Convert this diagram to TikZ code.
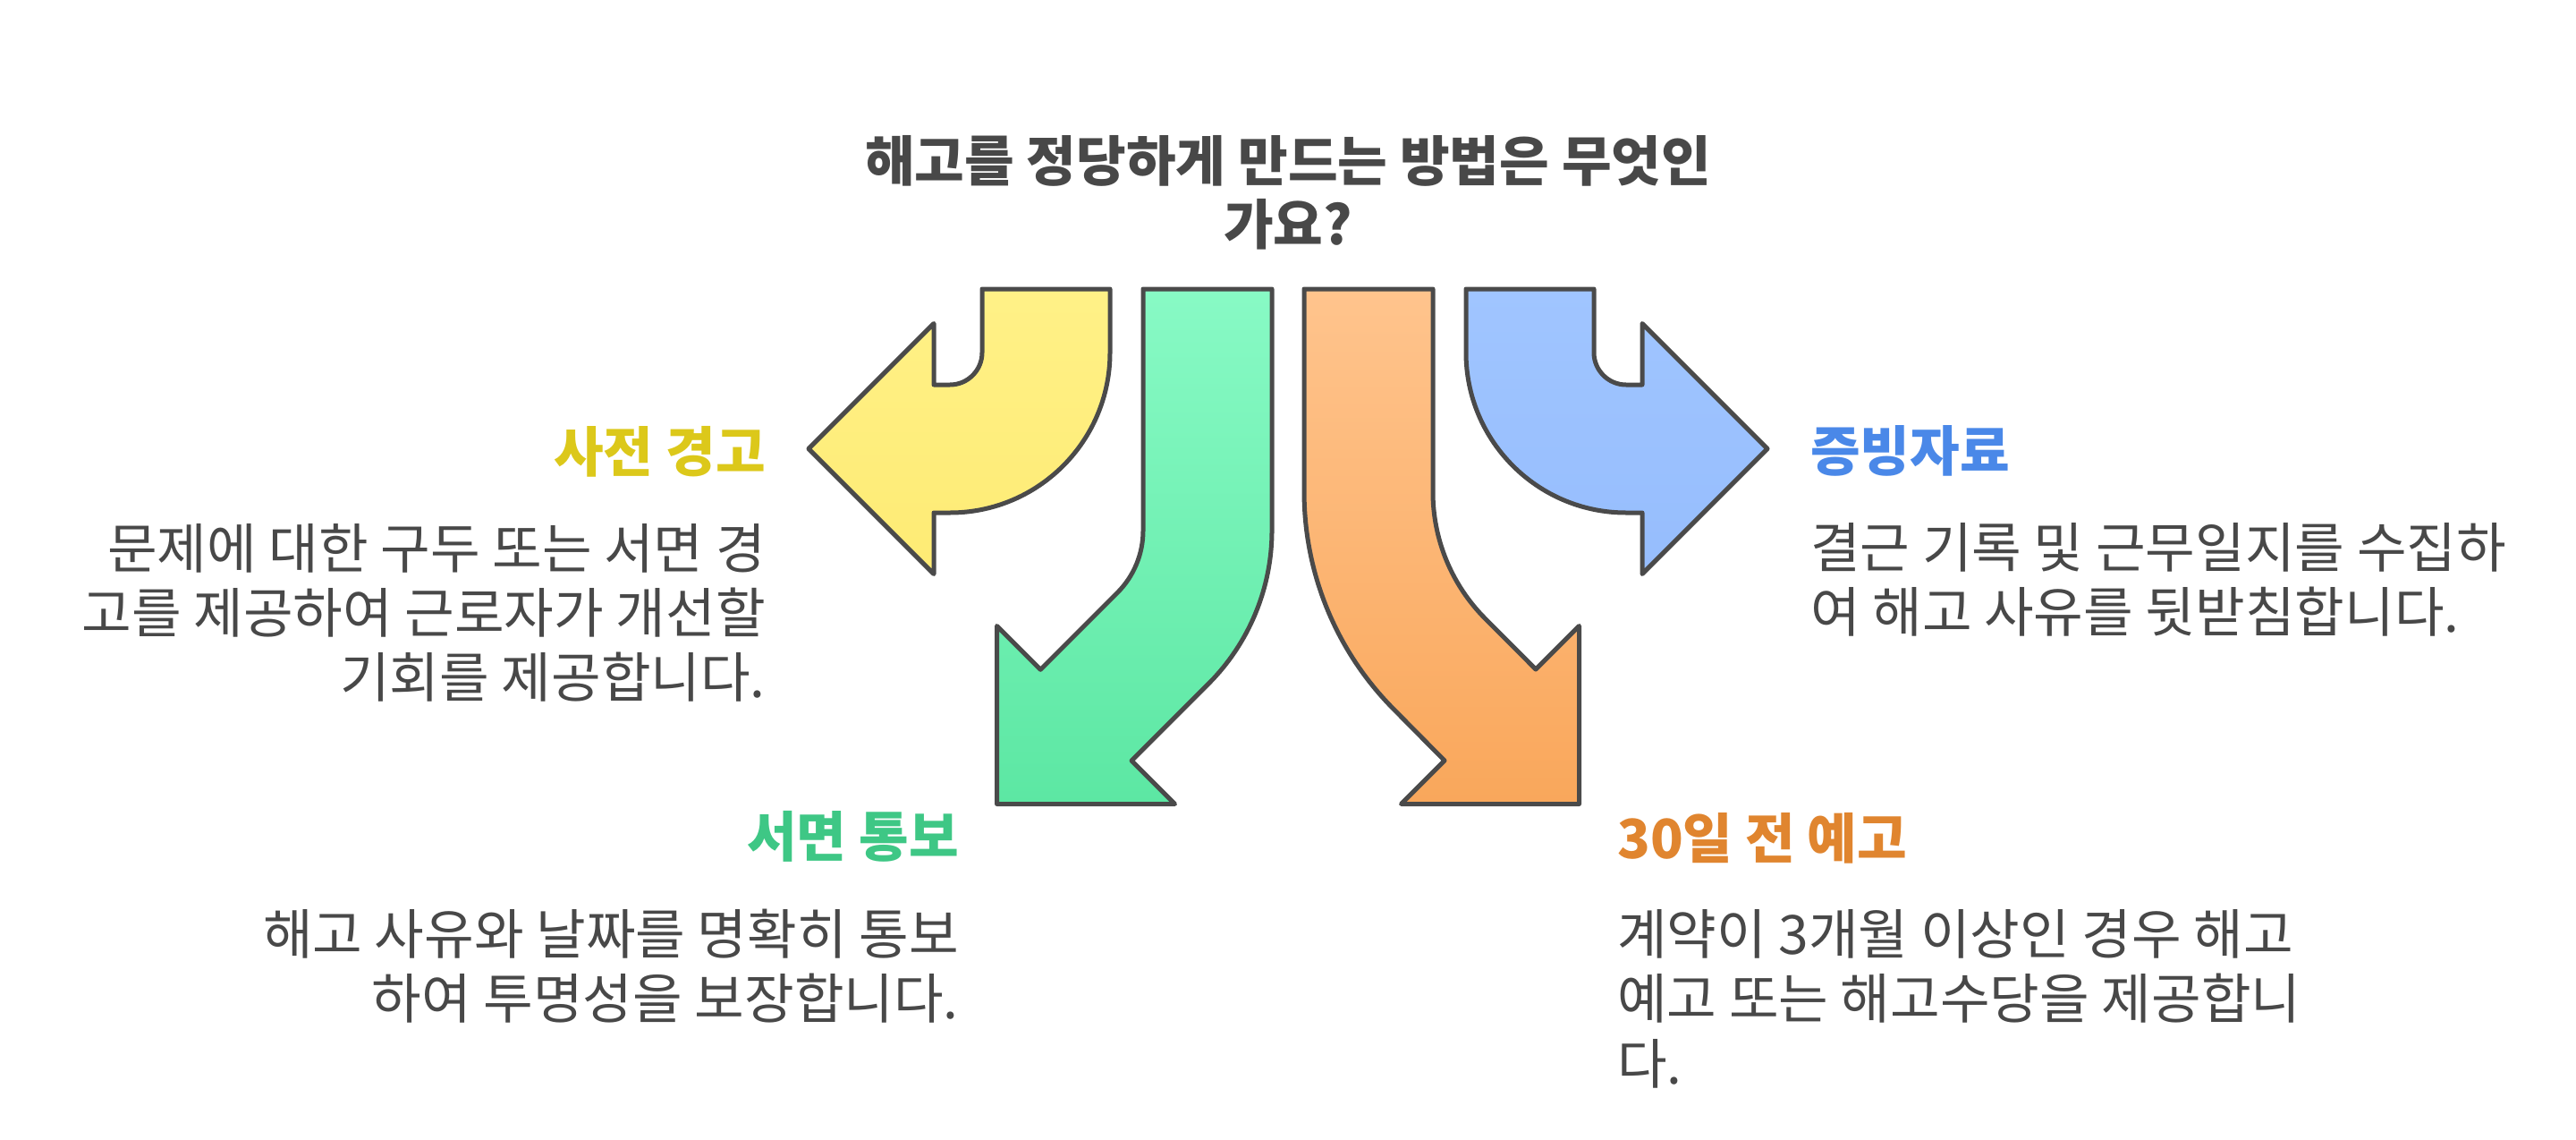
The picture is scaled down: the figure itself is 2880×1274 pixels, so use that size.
\documentclass[tikz,border=0pt]{standalone}
\usepackage{fontspec}
\setmainfont{Noto Sans CJK KR}
\definecolor{stroke}{HTML}{4A4A4A}
\definecolor{txt}{HTML}{484848}
\definecolor{yelT}{HTML}{FFF187}
\definecolor{yelB}{HTML}{FEEB74}
\definecolor{grnT}{HTML}{88FAC5}
\definecolor{grnB}{HTML}{5CE7A3}
\definecolor{orgT}{HTML}{FFC48D}
\definecolor{orgB}{HTML}{F9A75B}
\definecolor{bluT}{HTML}{A0C5FF}
\definecolor{bluB}{HTML}{96BDFD}
\definecolor{yelH}{HTML}{DCC81A}
\definecolor{grnH}{HTML}{3EC785}
\definecolor{orgH}{HTML}{E0852F}
\definecolor{bluH}{HTML}{4A88E8}
\begin{document}
\begin{tikzpicture}[x=1pt,y=-1pt,
  arrowshape/.style={draw=stroke, line width=5pt, line join=round},
  headtxt/.style={font=\fontsize{60.5}{68}\selectfont\bfseries, inner sep=0pt},
  bodytxt/.style={font=\fontsize{60.5}{74}\selectfont, text=txt, inner sep=0pt}]
\useasboundingbox (0,0) rectangle (2880,1274);
\fill[white] (0,0) rectangle (2880,1274);

% yellow arrow
\draw[arrowshape, top color=yelT, bottom color=yelB]
  (1098,323) -- (1241,323) -- (1241,394) arc[start angle=0, end angle=90, radius=179]
  -- (1044,573) -- (1044,641.5) -- (904,501.5) -- (1044,361.5) -- (1044,430) -- (1062,430)
  arc[start angle=90, end angle=0, radius=36] -- cycle;
% green arrow
\draw[arrowshape, top color=grnT, bottom color=grnB]
  (1278,323) -- (1422,323) -- (1422,593) arc[start angle=0, end angle=45, radius=242]
  -- (1265.1,850.1) -- (1313.5,898.5) -- (1114.5,898.5) -- (1114.5,699.5) -- (1163.3,748.3)
  -- (1249.3,662.3) arc[start angle=45, end angle=0, radius=98] -- cycle;
% orange arrow
\draw[arrowshape, top color=orgT, bottom color=orgB]
  (1458,323) -- (1602,323) -- (1602,550) arc[start angle=180, end angle=135, radius=200]
  -- (1717,748) -- (1765.5,699.5) -- (1765.5,898.5) -- (1566.5,898.5) -- (1615,850)
  -- (1558.8,793.2) arc[start angle=135, end angle=180, radius=344] -- cycle;
% blue arrow
\draw[arrowshape, top color=bluT, bottom color=bluB]
  (1782,323) -- (1639,323) -- (1639,394) arc[start angle=180, end angle=90, radius=179]
  -- (1836,573) -- (1836,641.5) -- (1976,501.5) -- (1836,361.5) -- (1836,430) -- (1818,430)
  arc[start angle=90, end angle=180, radius=36] -- cycle;

% title
\node[headtxt, text=txt, anchor=base] (t1) at (1440,202) {해고를 정당하게 만드는 방법은 무엇인};
\node[headtxt, text=txt, anchor=base] (t2) at (1440,273) {가요?};

% yellow text
\node[headtxt, text=yelH, anchor=base east] (yh) at (856,527) {사전 경고};
\node[bodytxt, anchor=base east] (y1) at (856,635) {문제에 대한 구두 또는 서면 경};
\node[bodytxt, anchor=base east] (y2) at (856,707) {고를 제공하여 근로자가 개선할};
\node[bodytxt, anchor=base east] (y3) at (856,779) {기회를 제공합니다.};

% blue text
\node[headtxt, text=bluH, anchor=base west] (bh) at (2024,526) {증빙자료};
\node[bodytxt, anchor=base west] (b1) at (2024,634) {결근 기록 및 근무일지를 수집하};
\node[bodytxt, anchor=base west] (b2) at (2024,706) {여 해고 사유를 뒷받침합니다.};

% green text
\node[headtxt, text=grnH, anchor=base east] (gh) at (1072,957) {서면 통보};
\node[bodytxt, anchor=base east] (g1) at (1072,1066) {해고 사유와 날짜를 명확히 통보};
\node[bodytxt, anchor=base east] (g2) at (1072,1138) {하여 투명성을 보장합니다.};

% orange text
\node[headtxt, text=orgH, anchor=base west] (oh) at (1808,959) {30일 전 예고};
\node[bodytxt, anchor=base west] (o1) at (1808,1066) {계약이 3개월 이상인 경우 해고};
\node[bodytxt, anchor=base west] (o2) at (1808,1138) {예고 또는 해고수당을 제공합니};
\node[bodytxt, anchor=base west] (o3) at (1808,1211) {다.};
\end{tikzpicture}
\end{document}
